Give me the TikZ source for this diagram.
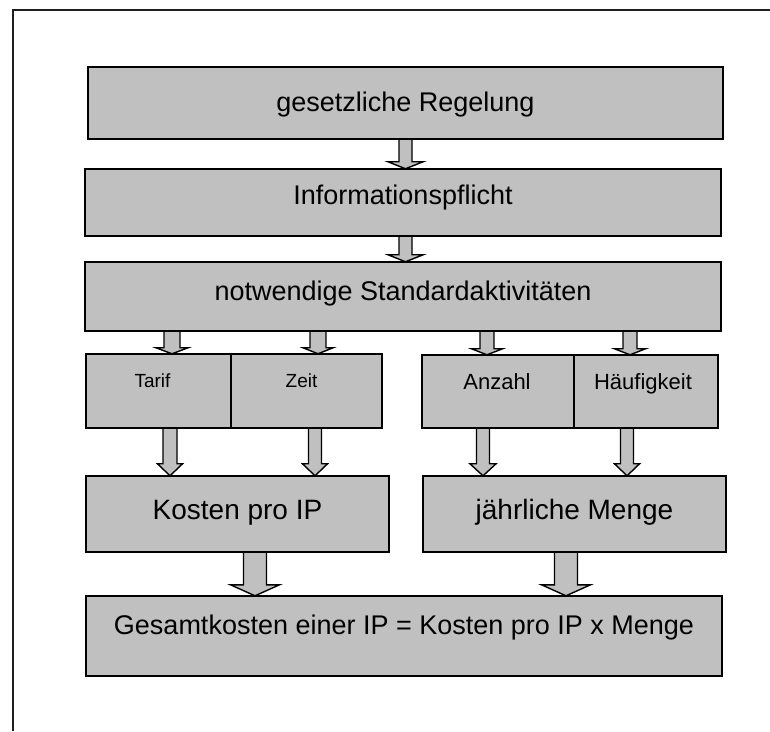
\documentclass[tikz,border=0pt]{standalone}
\usepackage{fontspec}
\setmainfont{Liberation Sans}
\usetikzlibrary{calc,fit}

% Canvas in points; y is measured downwards from the top edge
\newcommand{\py}[1]{731-#1}

\definecolor{boxgray}{HTML}{C0C0C0}
\definecolor{framegray}{HTML}{202020}
\tikzset{
  box/.style={draw=black, line width=2pt, fill=boxgray},
  blockarrow/.style={draw=black, line width=1.4pt, fill=boxgray, line join=miter},
  lbl/.style={anchor=base, inner sep=0pt},
  bigtxt/.style={font=\fontsize{27}{31}\selectfont},
  midtxt/.style={font=\fontsize{28}{32}\selectfont},
  smalltxt/.style={font=\fontsize{22}{26}\selectfont},
  tinytxt/.style={font=\fontsize{19}{23}\selectfont},
}

% Block arrow from the bottom of node #2 to the top of node #3 at x = #1;
% #4 half shaft width, #5 half head width, #6 head length
\newcommand{\blockarr}[6]{%
  \draw[blockarrow] let \p1=(#2.south), \p2=(#3.north) in
    (#1-#4,\y1) -- (#1+#4,\y1) -- (#1+#4,\y2+#6) -- (#1+#5,\y2+#6)
    -- (#1,\y2) -- (#1-#5,\y2+#6) -- (#1-#4,\y2+#6) -- cycle;}

% Box from (#2,#3) to (#4,#5) in top-down coordinates, named #1
\newcommand{\boxat}[5]{%
  \path[box] (#2,\py{#3}) rectangle (#4,\py{#5});
  \coordinate (#1-nw) at (#2,\py{#3});
  \coordinate (#1-se) at (#4,\py{#5});
  \node[inner sep=0pt, fit=(#1-nw)(#1-se)] (#1) {};}

\begin{document}
\begin{tikzpicture}[x=1pt, y=1pt]
\useasboundingbox (0,0) rectangle (770,731);

% outer frame (top and left edges)
\draw[framegray, line width=1.6pt] (13,0) -- (13,\py{10}) -- (770,\py{10});

% boxes
\boxat{reg}{88}{67}{723}{139}
\boxat{info}{85}{169}{721}{236}
\boxat{std}{85}{262}{721}{331}
\boxat{tarif}{86}{354}{231}{428}
\boxat{zeit}{231}{354}{382}{428}
\boxat{anz}{422}{355}{574}{428}
\boxat{hfg}{574}{355}{718}{428}
\boxat{kost}{86}{476}{389}{552}
\boxat{menge}{423}{476}{726}{552}
\boxat{ges}{86}{596}{722}{676}

% labels
\node[lbl, bigtxt] at ($(reg.north)+(0,-45)$) {gesetzliche Regelung};
\node[lbl, bigtxt] at ($(info.north)+(0,-36)$) {Informationspflicht};
\node[lbl, bigtxt] at ($(std.north)+(0,-39)$) {notwendige Standardaktivitäten};
\node[lbl, tinytxt] at ($(tarif.north)+(-6,-34)$) {Tarif};
\node[lbl, tinytxt] at ($(zeit.north)+(-5,-34)$) {Zeit};
\node[lbl, smalltxt] at ($(anz.north)+(-1,-35)$) {Anzahl};
\node[lbl, smalltxt] at ($(hfg.north)+(-3,-35)$) {Häufigkeit};
\node[lbl, midtxt] at ($(kost.north)+(0,-44)$) {Kosten pro IP};
\node[lbl, midtxt] at ($(menge.north)+(0,-44)$) {jährliche Menge};
\node[lbl, bigtxt] at ($(ges.north)+(0,-39)$) {Gesamtkosten einer IP = Kosten pro IP x Menge};

% arrows
\blockarr{405.5}{reg}{info}{6.5}{17.5}{7}
\blockarr{405.5}{info}{std}{6.5}{17.5}{7}
\blockarr{172}{std}{tarif}{8}{16}{6}
\blockarr{318}{std}{zeit}{8}{15}{6}
\blockarr{487}{std}{anz}{7}{15.5}{6}
\blockarr{630}{std}{hfg}{7}{15.5}{6}
\blockarr{170}{tarif}{kost}{7}{12.5}{12}
\blockarr{315}{zeit}{kost}{6.5}{12.5}{12}
\blockarr{483}{anz}{menge}{6.5}{13}{12}
\blockarr{627}{hfg}{menge}{6.5}{12.5}{12}
\blockarr{255}{kost}{ges}{11.5}{24.5}{11}
\blockarr{566}{menge}{ges}{11.5}{24.5}{11}
\end{tikzpicture}
\end{document}
